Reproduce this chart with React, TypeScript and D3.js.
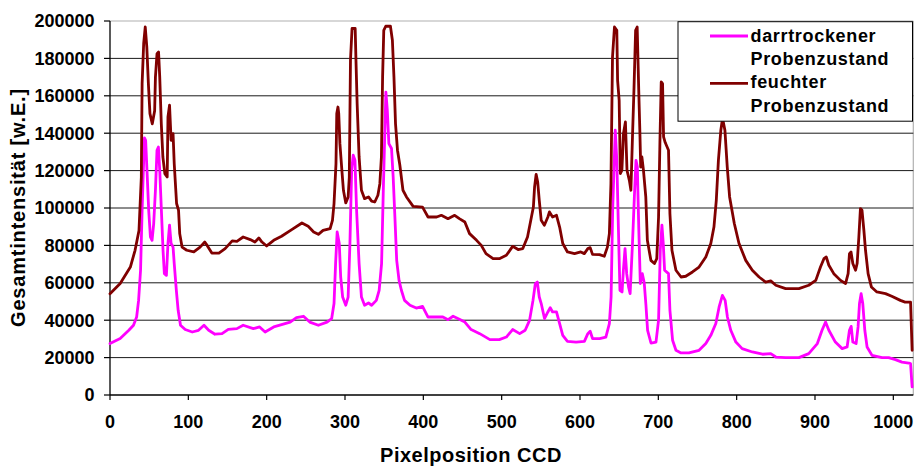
import React from "react";
import * as d3 from "d3";

const seriesNames = ["darrtrockener Probenzustand", "feuchter Probenzustand"];
const seriesColors = ["#FF00FF", "#800000"];

// [pixel position, intensity]
const darrData: [number, number][] = [
  [0, 27500], [13, 30200], [24, 34600], [30, 37300], [34, 41700], [36.5, 50600], [39, 66700], [41, 98800],
  [42.3, 116600], [44, 137500], [45.5, 136200], [47.4, 118400], [49.4, 98800], [51.6, 84500], [53.7, 82700],
  [55.8, 91700], [58, 109500], [60, 130900], [61.8, 132600], [63.5, 120200], [65.6, 98800], [67.7, 77400],
  [69.4, 64900], [72, 64000], [74, 81000], [76, 90800], [78, 81000], [80.5, 79100], [82, 70300], [84.7, 56000],
  [87, 45300], [90, 37300], [96, 35000], [105, 33700], [113, 34600], [120, 37300], [126, 34600], [134, 32500],
  [143, 32800], [151, 35100], [162, 35500], [170, 37300], [183, 35500], [191, 36400], [198, 33700], [209, 36400],
  [219, 37600], [230, 39000], [238, 41400], [247, 42100], [255, 39000], [266, 37300], [277, 39000], [283, 40900],
  [286, 48900], [288, 70300], [290, 87200], [292.7, 81000], [294.5, 63100], [297, 52400], [301, 48000],
  [304, 52400], [306.3, 81000], [308.5, 120200], [310.5, 128200], [312.7, 125500], [314.8, 98800], [318, 70300],
  [321, 52400], [325, 48000], [330, 49200], [334, 48000], [340, 50600], [343.6, 56000], [346.7, 70300],
  [348.8, 107700], [351, 143300], [352.2, 162000], [354, 152300], [356, 134400], [359.4, 131800], [361.5, 116600],
  [363.7, 95200], [366, 72000], [369, 61300], [372, 56000], [376, 50600], [383, 48000], [391, 46500], [399, 47400],
  [406, 41700], [417, 41700], [425, 41700], [431.6, 40300], [438, 42100], [446, 40500], [453, 39000], [461, 35000],
  [472, 32800], [485, 29600], [497, 29600], [506, 31000], [514, 35000], [523, 32800], [530, 34600], [535.6, 39900],
  [540, 50600], [543, 59600], [545.5, 60400], [548, 52400], [550.5, 48900], [554.7, 40900], [559, 44400],
  [562, 46700], [565, 44400], [570, 44400], [574, 38200], [578, 31900], [584, 28700], [595, 28300], [605.6, 28700],
  [610, 32800], [613, 34100], [616, 30200], [625, 30200], [633, 31000], [637.5, 38200], [639.7, 52400],
  [641.7, 98800], [645, 141600], [647, 125500], [649, 89800], [651, 56000], [653.7, 55100], [655.4, 66700],
  [657.5, 78300], [659.6, 64900], [662, 57800], [664, 54200], [667, 81000], [669.4, 105900], [671.5, 125500],
  [673.2, 121900], [675, 89800], [677, 59600], [679.5, 64900], [682, 60000], [684.2, 48000], [686.3, 34600],
  [690.6, 27800], [697, 28300], [700.3, 40000], [702.5, 77400], [704.6, 90800], [706.3, 81000], [708, 66700],
  [713, 64900], [714.8, 45300], [718.2, 29300], [722.5, 23900], [729, 22500], [739, 22500], [752, 23900],
  [760.6, 27500], [767, 31900], [773.4, 38200], [777.6, 47100], [781.8, 53300], [785.3, 50600], [788.2, 41700],
  [792.5, 34600], [799, 28300], [807, 24800], [820, 23000], [833, 21800], [843.5, 22100], [850, 20300],
  [862.5, 20000], [879.5, 20000], [892, 22100], [903, 27500], [909, 34600], [913.5, 39000], [917.7, 34600],
  [926, 28300], [934.7, 24800], [941, 25700], [944, 34600], [946.2, 36700], [948.3, 28300], [952.5, 27500],
  [955, 36400], [956.8, 48900], [958.9, 54200], [961, 48900], [963.6, 34600], [966.5, 25700], [972.8, 21200],
  [985.6, 20000], [994, 20000], [1002.7, 18900], [1011, 17600], [1019.7, 17100], [1022, 16800], [1024, 4300],
];

const feuchtData: [number, number][] = [
  [0, 54200], [13, 59600], [26, 68400], [32, 77400], [37, 88000], [40, 116600], [41, 166500], [43, 188000],
  [45, 196800], [47, 186000], [49, 166500], [51, 150500], [54, 145000], [57, 152000], [58, 170000], [60, 182500],
  [62, 183400], [63.5, 170000], [65.5, 145000], [67.5, 127300], [70, 118400], [73, 116600], [74, 148700],
  [76, 155000], [78, 136200], [80.5, 139800], [82, 123700], [85, 102400], [87.5, 98800], [89, 86300], [92, 79100],
  [98, 77400], [107, 76500], [115, 79100], [121, 81800], [124, 80000], [130, 75900], [139, 75900], [147, 78300],
  [156, 82400], [162, 82200], [170, 84500], [179, 83100], [185, 81800], [190, 84000], [194, 81800], [200, 79700],
  [209, 82700], [219, 84900], [232, 88400], [245, 92000], [253, 90200], [260, 87200], [266, 85900], [272, 88000],
  [281, 89000], [284, 93400], [286, 102400], [288.5, 123700], [289.5, 150500], [291, 154000], [292, 150600],
  [293.5, 134400], [296, 120200], [298, 109500], [301, 102700], [304, 105900], [305.5, 116600], [307, 179000],
  [309, 196000], [313, 196000], [314, 179000], [315.5, 155800], [318, 127300], [321, 109500], [325, 105000],
  [330, 105900], [334, 103700], [338, 103200], [342, 106800], [344.5, 113000], [346.5, 127300], [348, 170000],
  [349.5, 195000], [352, 197200], [358, 197200], [360.5, 189700], [362.5, 170000], [364.5, 145000],
  [367, 130900], [370, 123000], [374, 109500], [378.5, 105900], [387, 100900], [399, 100500], [406, 95200],
  [417, 95200], [423, 96100], [431.5, 94300], [440, 96100], [446, 94300], [453, 92500], [459, 86300],
  [468, 82700], [474, 80000], [480, 75600], [489, 72900], [497, 72900], [506, 74700], [514, 79500], [521, 77800],
  [527, 78300], [533, 84500], [538, 95200], [540.5, 100500], [542, 111200], [544, 118000], [546, 113900],
  [548, 104100], [550.5, 93400], [554.5, 90800], [559, 95200], [561, 97900], [565, 95200], [570, 96100],
  [574, 89800], [578, 81000], [584, 76500], [593, 75600], [601, 76500], [605.5, 75600], [610, 78300],
  [613, 78800], [616, 75200], [625, 75100], [631, 74200], [635, 79100], [637.5, 86300], [639.5, 113000],
  [641.5, 180700], [644, 196800], [647, 195000], [648, 168300], [650, 157600], [651.5, 118400], [653.5, 120200],
  [655.5, 139800], [658, 146000], [660, 120200], [663, 114800], [665, 109500], [667, 138000], [669, 164700],
  [671, 195000], [673, 196800], [675, 163000], [676.5, 139800], [677.5, 121900], [679, 127300], [681, 120200],
  [684, 105900], [686, 82700], [690.5, 72000], [695, 70300], [698, 72900], [700.3, 95200], [702, 134400],
  [703.7, 167400], [705.4, 166500], [706.7, 138000], [708.8, 135000], [713, 130900], [714.8, 97000],
  [717.4, 77400], [722.5, 66700], [729, 63100], [735, 63500], [743.6, 65800], [752, 68400], [760.6, 73800],
  [767, 81000], [771, 89800], [774, 104100], [776.7, 125500], [779.8, 141600], [782, 148000], [785, 141600],
  [788, 121900], [791, 105900], [797, 91700], [803, 81000], [811.6, 72000], [820, 66700], [828.6, 63100],
  [837, 60400], [843.5, 61000], [850, 58700], [862.5, 56900], [879.5, 56900], [892, 58700], [901, 61300],
  [907, 68400], [911.4, 72900], [914.4, 73800], [917.7, 69400], [924, 64900], [932.6, 61300], [939, 59600],
  [942.3, 64900], [944, 75600], [946, 76500], [948.3, 70300], [951.8, 66700], [953.8, 70300], [956, 84500],
  [958, 99700], [960, 98800], [962.4, 88100], [964.5, 77400], [967.8, 64900], [972, 57800], [979, 55100],
  [990, 54200], [998, 52800], [1009, 50600], [1015, 49700], [1022, 49700], [1024, 23900],
];

const xTicks = [0, 100, 200, 300, 400, 500, 600, 700, 800, 900, 1000];
const yTicks = [0, 20000, 40000, 60000, 80000, 100000, 120000, 140000, 160000, 180000, 200000];
const xTitle = "Pixelposition CCD";
const yTitle = "Gesamtintensität [w.E.]";

const FONT = "'Liberation Sans', Arial, Helvetica, sans-serif";

export default function App() {
  const W = 918, H = 467;
  const left = 110, right = 913.3, top = 21, bottom = 395;
  const x = d3.scaleLinear().domain([0, 1025.5]).range([left, right]);
  const y = d3.scaleLinear().domain([0, 200000]).range([bottom, top]);
  const line = d3.line<[number, number]>().x((d) => x(d[0])).y((d) => y(d[1]));
  const series = [darrData, feuchtData];

  const legX = 678, legY = 21.7, legW = 234.5, legH = 99.5;

  return (
    <svg width={W} height={H} style={{ position: "absolute", left: 0, top: 0, background: "#fff" }}
      fontFamily={FONT}>
      <rect x={0} y={0} width={W} height={H} fill="#fff" />
      {/* plot border (light) */}
      <line x1={left} x2={right} y1={top} y2={top} stroke="#b0b0b0" strokeWidth={1.2} />
      <line x1={right} x2={right} y1={top} y2={bottom} stroke="#b0b0b0" strokeWidth={1.2} />
      {/* gridlines */}
      {yTicks.filter((t) => t > 0 && t < 200000).map((t) => (
        <line key={"g" + t} x1={left} x2={right} y1={y(t)} y2={y(t)} stroke="#1a1a1a" strokeWidth={1} />
      ))}
      {/* y axis */}
      <line x1={left} x2={left} y1={top} y2={bottom} stroke="#000" strokeWidth={1.3} />
      {yTicks.map((t) => (
        <g key={"yt" + t}>
          <line x1={left - 6} x2={left} y1={y(t)} y2={y(t)} stroke="#000" strokeWidth={1.2} />
          <text x={94.5} y={y(t)} dy="0.36em" textAnchor="end" fontSize={18} fontWeight="bold" fill="#000">
            {t}
          </text>
        </g>
      ))}
      {/* x axis */}
      <line x1={left} x2={right} y1={bottom} y2={bottom} stroke="#000" strokeWidth={1.5} />
      {xTicks.map((t) => (
        <g key={"xt" + t}>
          <line x1={x(t)} x2={x(t)} y1={bottom} y2={bottom + 5} stroke="#000" strokeWidth={1.2} />
          <text x={x(t)} y={428.3} textAnchor="middle" fontSize={18} fontWeight="bold" fill="#000">
            {t}
          </text>
        </g>
      ))}
      {/* series */}
      {series.map((s, i) => (
        <path key={"s" + i} d={line(s) || ""} fill="none" stroke={seriesColors[i]} strokeWidth={2.8}
          strokeLinejoin="round" strokeLinecap="round" />
      ))}
      {/* titles */}
      <text x={471} y={462} textAnchor="middle" fontSize={20} fontWeight="bold" letterSpacing={0.5} fill="#000">
        {xTitle}
      </text>
      <text transform={`translate(24.5, 207.5) rotate(-90)`} textAnchor="middle" fontSize={20}
        fontWeight="bold" letterSpacing={0.8} fill="#000">
        {yTitle}
      </text>
      {/* legend */}
      <rect x={legX} y={legY} width={legW} height={legH} fill="#fff" stroke="#000" strokeWidth={1} />
      {seriesNames.map((name, i) => {
        const words = name.split(" ");
        const baseY = 41.7 + i * 46.7;
        const ly = 36 + i * 47.3;
        return (
          <g key={"l" + i}>
            <line x1={710} x2={748} y1={ly} y2={ly} stroke={seriesColors[i]} strokeWidth={2.8} />
            <text x={750.5} y={baseY} fontSize={18} fontWeight="bold" letterSpacing={0.67} fill="#000">{words[0]}</text>
            <text x={750.5} y={baseY + 23.3} fontSize={18} fontWeight="bold" letterSpacing={0.67} fill="#000">{words[1]}</text>
          </g>
        );
      })}
    </svg>
  );
}
